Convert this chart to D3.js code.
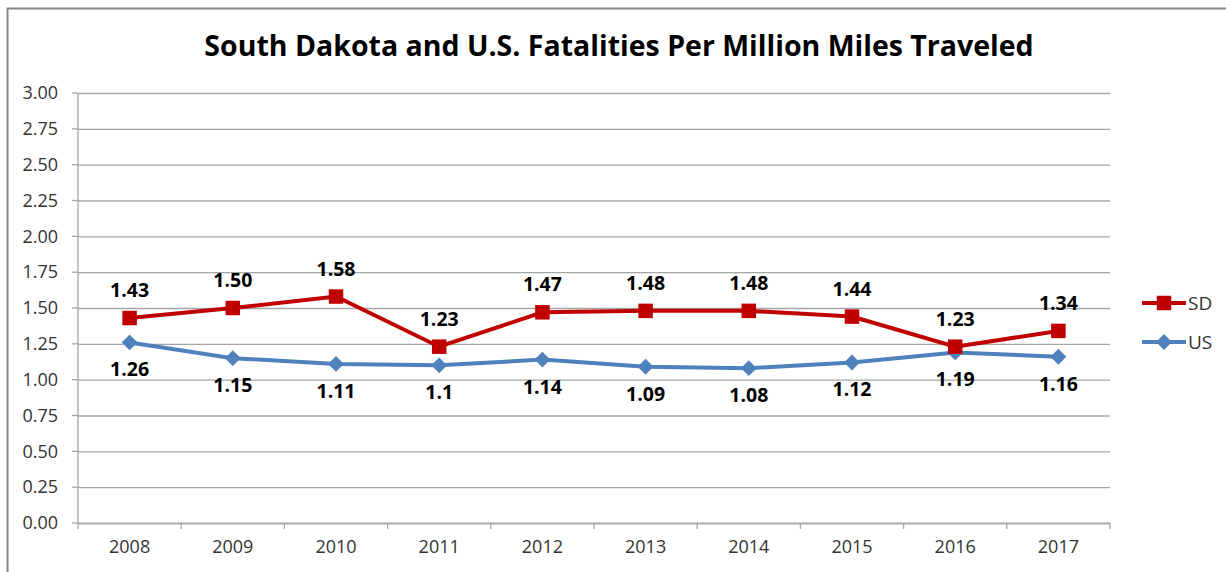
<!DOCTYPE html>
<html>
<head>
<meta charset="utf-8">
<script src="https://cdn.jsdelivr.net/npm/d3@7"></script>
<style>
  body { margin: 0; background: #fff; }
  svg { display: block; }
  svg text { font-family: "Open Sans", "Noto Sans", sans-serif; }
</style>
</head>
<body>
<div id="chart"></div>
<script>
const years = ["2008", "2009", "2010", "2011", "2012", "2013", "2014", "2015", "2016", "2017"];
const sdValues = [1.43, 1.50, 1.58, 1.23, 1.47, 1.48, 1.48, 1.44, 1.23, 1.34];
const usValues = [1.26, 1.15, 1.11, 1.10, 1.14, 1.09, 1.08, 1.12, 1.19, 1.16];
const sdLabels = ["1.43", "1.50", "1.58", "1.23", "1.47", "1.48", "1.48", "1.44", "1.23", "1.34"];
const usLabels = ["1.26", "1.15", "1.11", "1.1", "1.14", "1.09", "1.08", "1.12", "1.19", "1.16"];
const yTicks = [0, 0.25, 0.5, 0.75, 1, 1.25, 1.5, 1.75, 2, 2.25, 2.5, 2.75, 3];

const W = 1226, H = 572;
const margin = { top: 93, left: 78, right: 116, bottom: 49 };
const width = W - margin.left - margin.right;
const height = H - margin.top - margin.bottom;

const svg = d3.select("#chart").append("svg").attr("width", W).attr("height", H);

// outer chart frame
svg.append("path")
  .attr("d", `M7.5,${H}V8.5H${W}`)
  .attr("fill", "none")
  .attr("stroke", "#868686")
  .attr("stroke-width", 2);

svg.append("text")
  .attr("x", 619)
  .attr("y", 56)
  .attr("text-anchor", "middle")
  .attr("font-size", 28.5)
  .attr("font-weight", "bold")
  .attr("fill", "#000")
  .text("South Dakota and U.S. Fatalities Per Million Miles Traveled");

const g = svg.append("g").attr("transform", `translate(${margin.left},${margin.top})`);

const x = d3.scaleBand().domain(years).range([0, width]);
const y = d3.scaleLinear().domain([0, 3]).range([height, 0]);

// gridlines + y axis
const yAxis = g.append("g")
  .call(d3.axisLeft(y).tickValues(yTicks).tickSize(-width).tickFormat(d3.format(".2f")).tickPadding(20));
yAxis.select(".domain").remove();
yAxis.selectAll(".tick line").attr("stroke", "#a6a6a6").attr("stroke-width", 1.3);
yAxis.selectAll(".tick text").attr("font-size", 18).attr("fill", "#333");
// small tick stubs left of axis
g.append("g").selectAll("line").data(yTicks).join("line")
  .attr("x1", -6).attr("x2", 0)
  .attr("y1", d => y(d)).attr("y2", d => y(d))
  .attr("stroke", "#a6a6a6").attr("stroke-width", 1.3);

g.append("line")
  .attr("x1", 0).attr("x2", 0).attr("y1", 0).attr("y2", height)
  .attr("stroke", "#a6a6a6").attr("stroke-width", 1.3);

// x axis with ticks at band edges
const xAxis = g.append("g").attr("transform", `translate(0,${height})`)
  .call(d3.axisBottom(x).tickSize(0).tickPadding(17));
xAxis.select(".domain").attr("stroke", "#a6a6a6").attr("stroke-width", 1.3);
xAxis.selectAll(".tick text").attr("font-size", 18).attr("fill", "#333");
g.append("g").selectAll("line").data(d3.range(years.length + 1)).join("line")
  .attr("x1", i => i * x.bandwidth()).attr("x2", i => i * x.bandwidth())
  .attr("y1", height).attr("y2", height + 6)
  .attr("stroke", "#a6a6a6").attr("stroke-width", 1.3);

const cx = i => x(years[i]) + x.bandwidth() / 2;
const line = d3.line().x((d, i) => cx(i)).y(d => y(d));

const sdColor = "#C00000", usColor = "#4F81BD";

g.append("path").datum(usValues)
  .attr("d", line).attr("fill", "none")
  .attr("stroke", usColor).attr("stroke-width", 4);
g.append("path").datum(sdValues)
  .attr("d", line).attr("fill", "none")
  .attr("stroke", sdColor).attr("stroke-width", 4);

const diamond = d3.symbol().type(d3.symbolDiamond2).size(160);
const square = d3.symbol().type(d3.symbolSquare).size(210);

g.selectAll(".us-pt").data(usValues).join("path")
  .attr("class", "us-pt")
  .attr("transform", (d, i) => `translate(${cx(i)},${y(d)})`)
  .attr("d", diamond).attr("fill", usColor);
g.selectAll(".sd-pt").data(sdValues).join("path")
  .attr("class", "sd-pt")
  .attr("transform", (d, i) => `translate(${cx(i)},${y(d)})`)
  .attr("d", square).attr("fill", sdColor);

g.selectAll(".sd-lbl").data(sdValues).join("text")
  .attr("class", "sd-lbl")
  .attr("x", (d, i) => cx(i)).attr("y", d => y(d) - 21)
  .attr("text-anchor", "middle").attr("font-size", 19.5).attr("font-weight", "bold")
  .text((d, i) => sdLabels[i]);
g.selectAll(".us-lbl").data(usValues).join("text")
  .attr("class", "us-lbl")
  .attr("x", (d, i) => cx(i)).attr("y", d => y(d) + 34)
  .attr("text-anchor", "middle").attr("font-size", 19.5).attr("font-weight", "bold")
  .text((d, i) => usLabels[i]);

// legend
const legend = svg.append("g").attr("transform", "translate(1142,0)");
const items = [
  { name: "SD", color: sdColor, sym: square, y: 303 },
  { name: "US", color: usColor, sym: diamond, y: 342 }
];
items.forEach(it => {
  legend.append("line").attr("x1", 0).attr("x2", 44).attr("y1", it.y).attr("y2", it.y)
    .attr("stroke", it.color).attr("stroke-width", 4);
  legend.append("path").attr("transform", `translate(22,${it.y})`).attr("d", it.sym).attr("fill", it.color);
  legend.append("text").attr("x", 46).attr("y", it.y + 7)
    .attr("font-size", 19).attr("fill", "#333").text(it.name);
});
</script>
</body>
</html>
